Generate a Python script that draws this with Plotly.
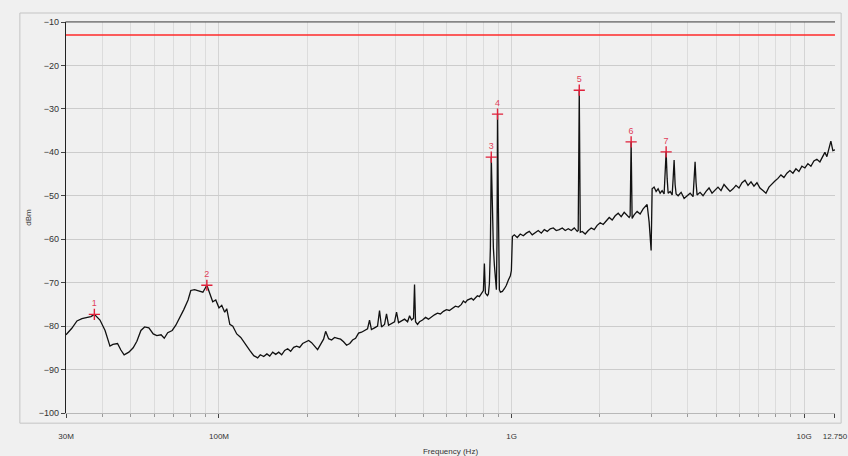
import plotly.graph_objects as go

# spectrum trace (MHz, dBm)
freq_mhz = [
    30, 31.4, 32.7, 34.0, 35.5, 36.5, 37.5, 39.2, 40.8, 42.4, 43.4, 45, 46.2, 47.4, 49.2, 50.9,
    52.4, 54.1, 55.7, 57.6, 59.6, 61.3, 63.4, 65, 66.8, 69.2, 71.2, 73.7, 75.8, 78.4, 80.1, 82.5,
    85.1, 88.1, 90.9,
    93.0, 95.2, 97.5, 100, 102.2, 104.6, 106.3, 108.9, 111.5, 115.0, 118.7, 122.5, 127.4, 131.5,
    135.6, 138.4, 142.2, 145.8, 149.1, 152.6, 156.3, 160, 163.8, 167.7, 171.7, 175.8, 180, 184.3,
    188.7, 193.2, 197.8, 202.5, 207.3, 212.3, 217.3, 222.5, 227.8, 231.5, 237, 242.6, 248.4, 254.4,
    260.4, 266.6, 273, 280, 286.2, 293, 300, 307.1, 314.5, 322, 327, 332, 340.2, 348.3, 353.8,
    359.4, 368, 373.8, 379.8, 388.9, 398.2, 404.5, 410.9, 420.8, 430.9, 441.2, 448.2, 455.2, 462.4,
    466.0, 469.7, 477.1, 484.6,
    496.2, 508.4, 520.0, 532.7, 545.1, 558.1, 571.4, 584.9, 598.9, 613.2, 627.8, 642.8, 658.1,
    673.8, 684.6, 695.4, 706.4, 717.6, 729.0, 740.6, 752.4, 764.3, 776.4, 788.8, 801.3, 807.6,
    814.0, 826.9, 833.4, 840, 846.6, 852.5, 860, 866.8, 873.7, 880.5, 887.5, 892.0, 895.5, 901.6,
    908.7, 915.9, 930.4, 945.2, 960.2, 975.4, 990.9, 998.7, 1006.6, 1022.0,
    1046, 1071, 1097, 1123, 1150, 1177, 1205, 1234, 1264, 1294, 1325, 1356, 1389, 1422, 1456,
    1491, 1526, 1563, 1600, 1638, 1677, 1690, 1704, 1718, 1745, 1786, 1829, 1872, 1917, 1962,
    2009, 2057, 2106, 2157, 2208, 2261, 2315, 2370, 2427, 2484, 2523, 2543, 2563, 2583, 2624,
    2687, 2751, 2817, 2862, 2907, 2953, 2977, 3000, 3024,
    3071, 3120, 3170, 3220, 3271, 3323, 3349, 3376, 3403, 3430, 3485, 3540, 3568, 3595, 3623,
    3652, 3710, 3799, 3889, 3982, 4077, 4174, 4207, 4240, 4273, 4307, 4409, 4514, 4622, 4732,
    4845, 4960, 5078, 5200, 5324, 5450, 5582, 5715, 5850, 5990, 6134, 6280, 6431, 6584, 6739,
    6900, 7065, 7233, 7406, 7583, 7764, 7949, 8138, 8333, 8532, 8735, 8944, 9158, 9376, 9600,
    9828, 10063, 10304, 10550, 10801, 11059, 11324, 11594, 11777, 11963, 12153, 12345, 12540, 12750,
]
level_dbm = [
    -82.0, -80.5, -78.8, -78.3, -78.0, -77.8, -77.3, -78.6, -81.0, -84.6, -84.2, -84.0, -85.5, -86.6, -86.0, -85.0,
    -83.5, -81.0, -80.2, -80.4, -81.8, -82.2, -82.0, -82.8, -81.5, -81.0, -79.8, -78.0, -76.2, -74.0, -71.8, -71.6,
    -71.9, -72.2, -70.6,
    -72.5, -74.4, -74.0, -75.8, -75.2, -76.8, -76.0, -79.6, -80.0, -81.8, -82.6, -84.0, -85.6, -86.8,
    -87.3, -86.6, -87.0, -86.4, -86.9, -86.0, -86.5, -86.0, -86.6, -85.6, -85.2, -85.8, -84.9, -84.6,
    -84.9, -84.0, -83.6, -83.3, -83.8, -84.6, -85.4, -84.2, -83.0, -81.2, -82.9, -83.2, -82.6, -82.8,
    -83.0, -83.6, -84.4, -84.0, -83.2, -82.8, -81.6, -81.4, -81.0, -80.6, -78.6, -80.8, -80.4, -80.0, -76.4,
    -80.2, -79.6, -77.2, -79.8, -79.4, -79.0, -76.8, -79.2, -78.8, -78.4, -79.0, -77.6, -78.6, -78.2,
    -70.4, -79.0, -79.6, -79.0,
    -78.6, -78.0, -78.4, -77.8, -77.4, -77.0, -77.2, -76.6, -76.2, -76.4, -75.8, -75.4, -75.6,
    -75.0, -74.2, -74.6, -74.0, -73.8, -73.6, -74.0, -73.4, -73.0, -73.2, -72.6, -71.8, -65.6,
    -72.4, -73.0, -72.6, -70.2, -62.0, -41.1, -54.0, -62.0, -66.0, -70.4, -71.6, -60.0, -31.2, -52.6,
    -71.6, -72.2, -72.0, -71.4, -70.6, -69.4, -68.4, -67.2, -59.4, -59.0,
    -59.6, -58.8, -59.2, -58.6, -58.2, -59.0, -58.4, -58.0, -58.6, -57.8, -58.2, -57.6, -57.4, -58.0, -57.8,
    -57.4, -58.0, -57.6, -58.0, -57.4, -58.2, -58.0, -25.7, -58.4, -58.2, -58.8, -58.0, -57.4, -57.8, -56.8,
    -56.2, -56.6, -55.8, -55.0, -55.6, -54.6, -54.0, -54.8, -53.8, -54.6, -55.0, -54.6, -37.6, -55.2, -54.4,
    -53.6, -54.2, -53.0, -52.4, -52.0, -56.0, -59.0, -62.6, -48.4,
    -48.0, -49.0, -48.4, -49.4, -48.8, -49.6, -45.0, -39.9, -46.0, -49.4, -49.0, -49.8, -46.0, -41.8, -47.4,
    -49.6, -50.0, -49.2, -50.6, -50.0, -49.4, -50.2, -46.0, -42.2, -47.0, -49.8, -49.2, -50.0, -49.0, -48.2,
    -49.4, -48.6, -48.0, -48.8, -47.4, -48.2, -49.0, -48.4, -47.6, -48.2, -47.0, -46.4, -47.6, -46.8, -47.8,
    -47.0, -48.2, -48.8, -49.4, -48.0, -47.2, -46.6, -46.0, -45.2, -45.8, -44.8, -44.2, -44.8, -43.8, -44.4,
    -43.2, -43.6, -42.6, -43.2, -42.0, -41.6, -42.2, -40.8, -40.0, -41.0, -39.2, -37.4, -39.6, -39.4,
]

# markers 1..7
marker_labels = ["1", "2", "3", "4", "5", "6", "7"]
marker_mhz = [37.5, 90.9, 852.5, 895.5, 1704, 2563, 3376]
marker_dbm = [-77.3, -70.6, -41.1, -31.2, -25.7, -37.6, -39.9]

limit_dbm = -13
span_mhz = [30, 12750]

x_tick_hz = [30e6, 100e6, 1e9, 10e9, 12.75e9]
x_tick_text = ["30M", "100M", "1G", "10G", "12.750"]
y_ticks = [-10, -20, -30, -40, -50, -60, -70, -80, -90, -100]

minor_hz = []
for dec in [1e7, 1e8, 1e9]:
    for m in range(2, 10):
        v = m * dec
        if 30e6 < v < 12.75e9:
            minor_hz.append(v)

fig = go.Figure()
fig.add_trace(go.Scatter(
    x=[f * 1e6 for f in span_mhz], y=[limit_dbm, limit_dbm], mode="lines",
    line=dict(color="#ff2a2a", width=1.6), hoverinfo="skip", showlegend=False,
))
fig.add_trace(go.Scatter(
    x=[f * 1e6 for f in freq_mhz], y=level_dbm, mode="lines",
    line=dict(color="#111111", width=1.3), showlegend=False,
))
fig.add_trace(go.Scatter(
    x=[f * 1e6 for f in marker_mhz], y=marker_dbm, mode="markers+text",
    text=marker_labels, textposition="top center",
    textfont=dict(color="#e0405a", size=9),
    marker=dict(symbol="cross-thin", size=8, line=dict(color="#e0203a", width=1.4)),
    showlegend=False,
))

fig.update_xaxes(
    type="log", range=[7.4771, 10.1056], automargin=False,
    tickvals=x_tick_hz, ticktext=x_tick_text, ticks="outside", ticklen=4,
    ticklabelstandoff=11, ticklabeloverflow="allow",
    tickfont=dict(size=8, color="#333333"),
    showgrid=True, gridcolor="#d4d4d4", gridwidth=1,
    minor=dict(tickvals=minor_hz, ticks="outside", ticklen=3, tickcolor="#999999",
               showgrid=True, gridcolor="#dcdcdc", gridwidth=1),
    showline=True, linecolor="#b8b8b8", mirror=True, zeroline=False,
    title=dict(text="Frequency (Hz)", font=dict(size=8, color="#333333"), standoff=14),
)
fig.update_yaxes(
    range=[-100, -10], tickvals=y_ticks, ticks="outside", ticklen=4, tickcolor="#444444",
    automargin=False,
    tickfont=dict(size=9, color="#333333"),
    showgrid=True, gridcolor="#cccccc", gridwidth=1,
    showline=True, linecolor="#222222", linewidth=1.2, zeroline=False,
    title=dict(text="dBm", font=dict(size=8, color="#333333"), standoff=6),
)
fig.add_shape(type="line", xref="paper", yref="paper", x0=0, x1=1, y0=1, y1=1,
              line=dict(color="#555555", width=1.2))
fig.add_shape(type="rect", xref="paper", yref="paper", x0=-0.06, x1=1.008, y0=-0.026, y1=1.023,
              line=dict(color="#c4c4c4", width=1), layer="below")

fig.update_layout(
    width=848, height=456,
    margin=dict(l=66, r=13, t=22, b=43, autoexpand=False),
    paper_bgcolor="#f0f0f0", plot_bgcolor="#f0f0f0",
    font=dict(family="Liberation Sans, Arial, sans-serif"),
)
fig.write_html(
    "out.html",
    config={"displayModeBar": False},
    post_script="document.body.style.margin='0';document.body.style.background='#f0f0f0';",
)
